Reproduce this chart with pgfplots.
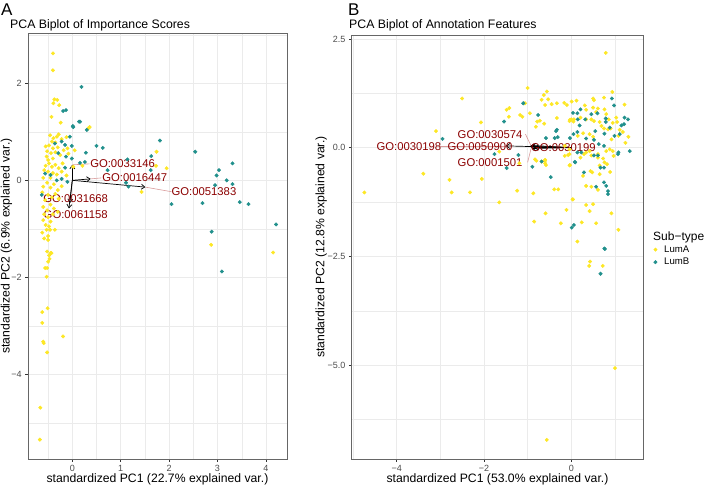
\documentclass[border=0pt]{standalone}
\usepackage{fontspec}
\setmainfont{Liberation Sans}
\usepackage{pgfplots}
\pgfplotsset{compat=1.18}
\usetikzlibrary{arrows.meta}
\definecolor{LumA}{HTML}{FDE725}
\definecolor{LumB}{HTML}{21908C}
\definecolor{GOred}{HTML}{8B0000}
\definecolor{GOseg}{HTML}{D99A9A}

\tikzset{go/.style={text=GOred,font=\fontsize{11.3}{13}\selectfont,inner sep=0pt}}
\pgfplotsset{
  bip/.style={
    scale only axis,
    xtick pos=bottom, ytick pos=left,
    tick align=outside, major tick length=2.75pt, minor tick length=0pt,
    tick style={black!80,line width=0.5pt},
    axis line style={black!60,line width=0.6pt},
    grid=both,
    major grid style={black!8,line width=0.55pt},
    minor grid style={black!8,line width=0.3pt},
    ticklabel style={font=\fontsize{9}{10}\selectfont,text=black!70},
    every axis x label/.style={at={(axis description cs:0.5,0)},anchor=center,yshift=-20pt,
      font=\fontsize{12.2}{14}\selectfont},
  },
  pA/.style={only marks,mark=*,mark size=1.75pt,color=LumA},
  pB/.style={only marks,mark=*,mark size=1.75pt,color=LumB},
  arr/.style={black,line width=0.7pt,-{Straight Barb[length=3.5pt,width=5pt]}},
  seg/.style={GOseg,line width=0.6pt},
}

\begin{document}
\begin{tikzpicture}
\path[use as bounding box] (0,0) rectangle (709pt,485pt);

\node[anchor=base west,font=\fontsize{17}{19}\selectfont,inner sep=0pt] at (1pt,469pt) {A};
\node[anchor=base west,font=\fontsize{12.3}{14}\selectfont,inner sep=0pt] at (10pt,456.5pt) {PCA Biplot of Importance Scores};
\node[anchor=base west,font=\fontsize{17}{19}\selectfont,inner sep=0pt] at (348pt,469pt) {B};
\node[anchor=base west,font=\fontsize{12.3}{14}\selectfont,inner sep=0pt] at (349pt,456.5pt) {PCA Biplot of Annotation Features};

% ---------------- panel A ----------------
\begin{axis}[bip,
  at={(28pt,26pt)},anchor=south west,width=259pt,height=426pt,
  xmin=-0.915,xmax=4.436,ymin=-5.75,ymax=3.04,
  xtick={0,1,2,3,4},xticklabels={0,1,2,3,4},
  minor xtick={-0.5,0.5,1.5,2.5,3.5},
  ytick={-4,-2,0,2},yticklabels={−4,−2,0,2},
  minor ytick={-5,-3,-1,1,3},
  xlabel={standardized PC1 (22.7\% explained var.)},
  ylabel={standardized PC2 (6.9\% explained var.)},
  every axis y label/.style={at={(axis description cs:0,0.5)},xshift=-21.5pt,rotate=90,anchor=center,
    font=\fontsize{12.2}{14}\selectfont},
]
\addplot[pA] coordinates {
(-0.40,2.62) (-0.40,2.27) (-0.37,1.67) (-0.31,1.66) (-0.39,1.59) (-0.27,1.55)
(-0.43,1.31) (-0.24,1.19) (0.33,1.07) (0.36,1.10)
(1.74,0.59) (1.95,0.25) (1.73,0.30) (1.43,-0.24) (0.21,0.30)
(2.87,-1.33) (4.15,-1.49)
(-0.50,-1.23) (-0.52,-1.47) (-0.45,-1.50) (-0.48,-1.55) (-0.43,-1.50) (-0.47,-1.62)
(-0.50,-1.68) (-0.56,-1.81) (-0.52,-1.81) (-0.53,-1.99) (-0.51,-2.64) (-0.62,-2.72)
(-0.62,-2.94) (-0.60,-3.33) (-0.59,-3.36) (-0.19,-3.22) (-0.52,-3.55) (-0.66,-4.69)
(-0.67,-5.35)
(-0.46,0.93) (-0.39,0.87) (-0.32,0.90) (-0.22,0.85) (-0.12,0.89) (-0.28,0.95)
(-0.42,0.80) (-0.35,0.78)
(-0.55,0.70) (-0.48,0.72) (-0.40,0.66) (-0.30,0.68) (-0.18,0.62) (-0.10,0.66)
(-0.52,0.60) (-0.44,0.56) (-0.35,0.58) (-0.25,0.52) (-0.53,0.49) (-0.50,0.42)
(-0.40,0.45) (-0.08,0.55) (0.05,0.62)
(-0.58,0.21) (-0.55,0.30) (-0.48,0.35) (-0.42,0.28) (-0.35,0.32) (-0.28,0.25)
(-0.20,0.35) (-0.50,0.18) (-0.40,0.15) (-0.32,0.12) (-0.22,0.18) (-0.12,0.10)
(0.02,0.28) (-0.60,0.05) (-0.45,0.05)
(-0.60,-0.13) (-0.52,-0.05) (-0.45,-0.15) (-0.38,-0.08) (-0.30,-0.20) (-0.56,-0.41)
(-0.50,-0.30) (-0.42,-0.35) (-0.35,-0.28) (-0.22,-0.12) (-0.62,-0.25) (-0.28,-0.38)
(-0.60,-0.55) (-0.52,-0.62) (-0.45,-0.50) (-0.38,-0.58) (-0.58,-0.70) (-0.50,-0.76)
(-0.60,-0.82) (-0.45,-0.85) (-0.40,-0.70) (-0.30,-0.65)
(-0.53,-1.02) (-0.46,-1.02) (-0.62,-1.08) (-0.36,-1.02) (-0.55,-0.92) (-0.50,-1.15)
(-0.58,-1.20) (-0.48,-0.95)
};
\addplot[pB] coordinates {
(0.19,1.93) (-0.19,1.43) (-0.13,1.45) (0.14,1.21) (0.02,1.10) (0.30,1.04)
(-0.05,0.90) (0.50,0.71) (0.63,0.67) (0.28,0.57) (1.81,0.82) (2.54,0.59)
(1.63,0.50) (1.14,0.43) (0.73,0.21) (1.11,-0.05) (1.16,-0.13) (1.62,0.21)
(2.05,-0.49) (2.69,-0.47) (2.88,-1.06) (3.03,0.21) (2.98,0.10) (3.31,0.35)
(3.19,0.00) (2.95,-0.10) (3.31,-0.08) (3.46,-0.45) (3.64,-0.49) (4.21,-0.91)
(3.09,-1.88)
(0.01,1.12) (0.16,1.21) (-0.15,0.73) (-0.01,0.71) (-0.22,0.80) (-0.36,0.76)
(-0.29,0.56) (-0.13,0.49) (-0.01,0.45) (-0.15,0.26) (0.16,0.36) (0.26,0.38)
(-0.32,0.00) (-0.22,0.03) (-0.45,0.11) (-0.10,-0.03) (-0.63,-0.30) (-0.56,0.14)
};
% label connectors
\addplot[seg] coordinates {(0.00,0.32) (0.36,0.34)};
\addplot[seg] coordinates {(0.38,0.03) (0.60,0.05)};
\addplot[seg] coordinates {(1.51,-0.14) (2.05,-0.235)};
% loading arrows
\addplot[arr] coordinates {(0,0) (0.00,0.32)};
\addplot[arr] coordinates {(0,0) (0.38,0.03)};
\addplot[arr] coordinates {(0,0) (1.51,-0.14)};
\addplot[arr] coordinates {(0,0) (-0.05,-0.47)};
\addplot[arr] coordinates {(0,0) (-0.07,-0.58)};
\node[go] at (axis cs:1.04,0.34) {GO:0033146};
\node[go] at (axis cs:1.29,0.05) {GO:0016447};
\node[go] at (axis cs:2.72,-0.235) {GO:0051383};
\node[go] at (axis cs:0.07,-0.386) {GO:0031668};
\node[go] at (axis cs:0.07,-0.70) {GO:0061158};
\end{axis}

% ---------------- panel B ----------------
\begin{axis}[bip,
  at={(351.7pt,26pt)},anchor=south west,width=291.6pt,height=424pt,
  xmin=-5.03,xmax=1.65,ymin=-7.16,ymax=2.59,
  xtick={-4,-2,0},xticklabels={−4,−2,0},
  minor xtick={-5,-3,-1,1},
  ytick={-5,-2.5,0,2.5},yticklabels={−5.0,−2.5,0.0,2.5},
  minor ytick={-6.25,-3.75,-1.25,1.25},
  xlabel={standardized PC1 (53.0\% explained var.)},
  ylabel={standardized PC2 (12.8\% explained var.)},
  every axis y label/.style={at={(axis description cs:0,0.5)},xshift=-30.5pt,rotate=90,anchor=center,
    font=\fontsize{12.2}{14}\selectfont},
  legend style={at={(axis description cs:1.035,0.479)},anchor=west,draw=none,fill=none,
    inner sep=0pt,font=\fontsize{9.6}{11}\selectfont,row sep=0.5pt,
    /tikz/every odd column/.append style={column sep=5pt}},
  legend cell align=left,
]
\addplot[pA] coordinates {
(-4.74,-1.03) (-3.39,-0.60) (-3.10,0.38) (-2.50,1.13) (-2.79,-0.74) (-2.74,-1.03)
(-2.32,-1.03) (-2.05,-0.72) (-2.07,0.58) (-1.65,-1.26) (-1.48,0.87) (-1.42,0.91)
(-1.43,0.71) (-1.65,-0.09) (-1.24,-0.99) (-1.19,-0.36) (-1.17,0.75) (-1.12,0.71)
(-1.00,1.37) (-0.95,0.79) (-0.87,-1.05) (-0.85,-1.70) (-0.81,0.48) (-0.78,0.60)
(-0.72,0.62) (-0.62,0.55) (-0.68,1.10) (-0.56,1.29) (-0.53,1.11) (-0.60,0.98)
(-0.59,-1.51) (-0.80,-0.30) (-0.68,-0.32) (-0.60,-0.30) (-1.06,1.02) (-0.63,1.21)
(-0.45,1.00) (-0.33,1.02) (-0.16,1.03) (-0.10,0.98) (0.01,1.06) (0.12,1.08)
(-0.33,0.68) (-0.03,0.64) (0.05,0.60) (-0.39,-0.96) (-0.30,-0.96) (-0.11,-1.43)
(-0.24,-1.74) (0.03,-1.19) (0.14,-2.16) (-0.83,-0.27) (-0.60,-0.36) (-0.58,-0.40)
(-0.60,-0.28) (-0.07,-0.17) (-0.03,-0.40) (0.43,-2.62) (0.41,-2.72) (0.72,-2.72)
(-0.56,-6.72) (1.00,-5.07)
(0.79,2.18) (0.94,1.28) (0.50,1.13) (0.52,1.09) (0.75,1.15) (1.22,0.99)
(0.31,0.97) (0.34,0.87) (0.50,0.92) (0.61,0.90) (0.57,0.82) (0.76,0.88)
(0.00,0.65) (-0.04,0.61) (0.06,0.65) (0.21,0.69) (0.34,0.65) (0.46,0.65)
(0.52,0.61) (0.65,0.59) (0.80,0.77) (0.86,0.65) (1.03,0.69) (1.05,0.59) (0.95,0.57)
(0.69,0.50) (0.75,0.44) (0.84,0.42) (0.90,0.44) (1.11,0.41) (1.18,0.36) (1.08,0.27)
(1.31,0.25) (0.15,0.27) (0.27,0.33) (0.42,0.31) (0.50,0.25) (0.92,0.19) (1.24,0.11)
(-0.15,0.04) (-0.15,-0.19) (-0.04,-0.04) (-0.04,-0.15) (-0.04,-0.41)
(0.21,-0.23) (0.29,-0.15) (0.34,-0.11) (0.42,-0.08) (0.46,-0.18) (0.61,-0.15) (0.61,-0.23)
(0.80,-0.08) (0.88,-0.04) (0.95,-0.08) (0.97,-0.19) (0.73,-0.25) (0.76,-0.34) (0.82,-0.38)
(0.65,-0.41) (0.27,-0.65) (0.44,-0.54) (0.48,-0.57) (0.65,-0.61) (0.89,-0.56)
(0.34,-0.88) (0.46,-0.90) (0.61,-0.97) (0.04,-1.19) (0.34,-1.32) (0.50,-1.30)
(0.42,-1.46) (0.92,-1.51) (0.24,-1.72) (0.57,-1.74) (1.08,-1.89)
};
\addlegendentry{LumA}
\addplot[pB] coordinates {
(-2.95,0.20) (-1.76,-0.15) (-1.54,0.60) (-1.48,-0.47) (-1.21,-0.17) (-1.10,1.02)
(-0.89,-0.44) (-0.76,0.75) (-0.68,-0.32) (-0.58,0.22) (-0.47,-0.68) (-0.35,0.38)
(-0.38,0.22) (-0.33,0.41) (-0.31,0.24) (-0.03,0.22) (0.01,-1.84) (0.06,-1.78)
(0.09,-0.34) (0.77,-2.33) (0.67,-2.90)
(0.04,0.80) (0.14,0.79) (0.21,0.88) (0.15,0.65) (0.19,0.51) (0.32,0.65) (0.46,0.77)
(0.60,0.79) (0.98,0.97) (0.93,1.13) (0.79,0.67) (0.79,0.59) (1.22,0.69) (1.30,0.65)
(1.11,0.31) (0.99,0.27) (1.15,0.51) (1.21,0.54) (0.55,0.38) (0.76,0.32) (0.88,0.46)
(0.05,0.31) (0.14,0.36) (0.34,0.21) (0.52,0.18) (0.63,0.08) (0.75,0.04)
(0.14,-0.11) (0.23,-0.11) (0.52,-0.18) (0.61,-0.18) (1.07,-0.15) (1.08,-0.11)
(1.34,-0.08) (0.08,-0.33) (0.67,-0.46) (0.75,-0.46) (0.29,-0.57) (0.75,-0.80)
(0.80,-0.88) (0.84,-1.00) (0.84,-1.07) (0.57,-0.90) (0.76,-2.32)
};
\addlegendentry{LumB}
\addplot[seg,forget plot] coordinates {(-0.92,0.04) (-1.05,0.31)};
\addplot[seg,forget plot] coordinates {(-0.92,-0.02) (-1.00,-0.34)};
\addplot[seg,forget plot] coordinates {(-1.50,0.03) (-3.0,0.03)};
\addplot[arr,forget plot] coordinates {(0,0) (-1.50,0.04)};
\addplot[arr,forget plot] coordinates {(0,0) (-0.95,0.03)};
\addplot[arr,forget plot] coordinates {(0,0) (-0.90,0.05)};
\addplot[arr,forget plot] coordinates {(0,0) (-0.90,-0.02)};
\addplot[arr,forget plot] coordinates {(0,0) (-0.85,0.00)};
\node[go] at (axis cs:-3.72,0.03) {GO:0030198};
\node[go] at (axis cs:-2.09,0.03) {GO:0050900};
\node[go] at (axis cs:-1.86,0.31) {GO:0030574};
\node[go] at (axis cs:-1.86,-0.34) {GO:0001501};
\node[go] at (axis cs:-0.18,0.00) {GO:0030199};
\end{axis}

\node[anchor=west,font=\fontsize{12}{14}\selectfont,inner sep=0pt] at (653pt,248pt) {Sub−type};
\end{tikzpicture}
\end{document}
